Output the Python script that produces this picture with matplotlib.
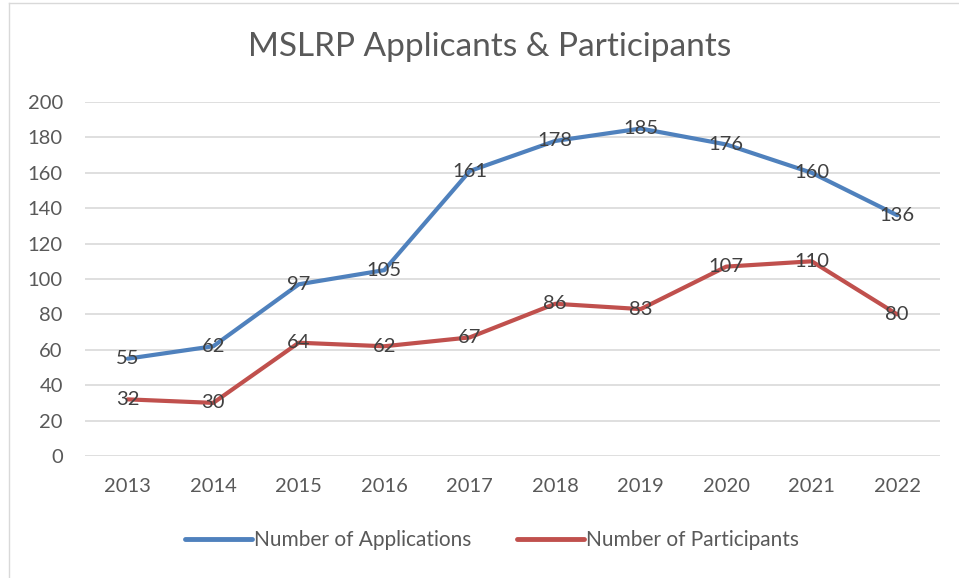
import matplotlib
matplotlib.use("Agg")
import matplotlib.pyplot as plt
from matplotlib.lines import Line2D

years = ["2013", "2014", "2015", "2016", "2017", "2018", "2019", "2020", "2021", "2022"]
applications = [55, 62, 97, 105, 161, 178, 185, 176, 160, 136]
participants = [32, 30, 64, 62, 67, 86, 83, 107, 110, 80]
series_names = ["Number of Applications", "Number of Participants"]
yticks = [0, 20, 40, 60, 80, 100, 120, 140, 160, 180, 200]

plt.rcParams['font.family'] = ['Lato', 'DejaVu Sans']
blue = "#4F81BD"
red = "#C0504D"
txt = "#595959"
lbl = "#404040"

fig = plt.figure(figsize=(9.59, 5.78), dpi=100)
ax = fig.add_axes([85/959, 1-456/578, 855/959, (456-102)/578])

x = list(range(len(years)))
ax.plot(x, applications, color=blue, lw=3.0, solid_capstyle='round', zorder=3)
ax.plot(x, participants, color=red, lw=3.0, solid_capstyle='round', zorder=3)
for xi, v in zip(x, applications):
    ax.text(xi, v, str(v), ha='center', va='center', fontsize=14.5, color=lbl, zorder=4)
for xi, v in zip(x, participants):
    ax.text(xi, v, str(v), ha='center', va='center', fontsize=14.5, color=lbl, zorder=4)

ax.set_xlim(-0.5, len(years)-0.5)
ax.set_ylim(0, 200)
ax.set_yticks(yticks)
ax.set_xticks(x)
ax.set_xticklabels(years)
ax.tick_params(axis='both', length=0, labelsize=14.5, labelcolor=txt)
ax.tick_params(axis='y', pad=16)
ax.tick_params(axis='x', pad=16)
ax.grid(axis='y', color="#D9D9D9", lw=1.2)
ax.set_axisbelow(True)
for s in ax.spines.values():
    s.set_visible(False)

fig.text(490/959, 1-47/578, "MSLRP Applicants & Participants", ha='center', va='center',
         fontsize=24, color=txt)

handles = [Line2D([0], [0], color=blue, lw=3.5, solid_capstyle='round'),
           Line2D([0], [0], color=red, lw=3.5, solid_capstyle='round')]
fig.legend(handles, series_names, loc='center', bbox_to_anchor=(492/959, 1-540/578),
           ncol=2, frameon=False, fontsize=15, labelcolor=txt, handlelength=3.2,
           handletextpad=0.1, columnspacing=2.2)

# chart border (left and top visible)
fig.add_artist(Line2D([9/959, 9/959], [0, 1-3/578], transform=fig.transFigure, color="#D9D9D9", lw=1))
fig.add_artist(Line2D([9/959, 1], [1-3/578, 1-3/578], transform=fig.transFigure, color="#D9D9D9", lw=1))

fig.savefig("out.png", dpi=100)
